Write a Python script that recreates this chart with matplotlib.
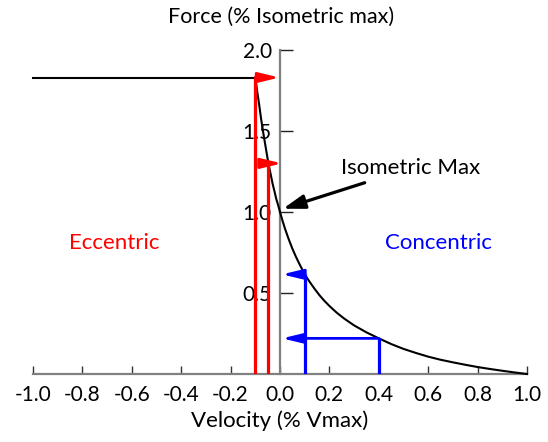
import matplotlib
matplotlib.use("Agg")
import matplotlib.pyplot as plt

plt.rcParams['font.family'] = ['Lato', 'DejaVu Sans']
plt.rcParams['axes.unicode_minus'] = False

# Data
plateau_v = [-1.0, -0.1]
plateau_F = [1.83, 1.83]
ecc_v = [-0.1, -0.092, -0.085, -0.077, -0.069, -0.058, -0.047, -0.038, -0.03, -0.022, -0.015, -0.007, 0.0]
ecc_F = [1.83, 1.74, 1.67, 1.58, 1.5, 1.4, 1.3, 1.235, 1.175, 1.125, 1.08, 1.04, 1.0]
con_v = [0.0, 0.01, 0.02, 0.035, 0.05, 0.065, 0.08, 0.1, 0.12, 0.14, 0.16, 0.18, 0.2, 0.23, 0.26,
         0.3, 0.35, 0.4, 0.45, 0.5, 0.55, 0.6, 0.65, 0.7, 0.75, 0.8, 0.85, 0.9, 0.95, 1.0]
con_F = [1.0, 0.947, 0.898, 0.833, 0.774, 0.722, 0.675, 0.615, 0.569, 0.526, 0.486, 0.451, 0.42,
         0.378, 0.342, 0.3, 0.257, 0.22, 0.185, 0.155, 0.13, 0.107, 0.088, 0.072, 0.057, 0.043,
         0.031, 0.02, 0.0095, 0.0]
ecc_marks_v = [-0.1, -0.05]
ecc_marks_F = [1.83, 1.3]
con_marks_v = [0.1, 0.4]
con_marks_F = [0.615, 0.22]
xticks = [-1.0, -0.8, -0.6, -0.4, -0.2, 0.0, 0.2, 0.4, 0.6, 0.8, 1.0]
yticks = [0.5, 1.0, 1.5, 2.0]

fig = plt.figure(figsize=(5.48, 4.42), dpi=100)
ax = fig.add_axes([33/548, 1-374/442, (527-33)/548, (374-50)/442])
ax.set_xlim(-1.0, 1.0)
ax.set_ylim(0, 2.0)

for s in ['top', 'right']:
    ax.spines[s].set_visible(False)
ax.spines['left'].set_position(('data', 0))
ax.spines['bottom'].set_position(('data', 0))
for s in ['left', 'bottom']:
    ax.spines[s].set_color('#808080')
    ax.spines[s].set_linewidth(1.6)

ax.set_xticks(xticks)
ax.set_xticklabels([f"{t:.1f}" for t in xticks])
ax.set_yticks(yticks)
ax.set_yticklabels([f"{t:.1f}" for t in yticks])
ax.tick_params(axis='x', direction='in', length=6, width=1, color='#333333', labelsize=15, pad=8)
ax.tick_params(axis='y', direction='in', length=9, width=1, color='#222222', labelsize=15, pad=6)

ax.set_xlabel('Velocity (% Vmax)', fontsize=16, labelpad=4)
fig.text(281/548, 1-17/442, 'Force (% Isometric max)', fontsize=15.5, ha='center', va='center')

# Curves
ax.plot(plateau_v, plateau_F, color='black', lw=1.5, clip_on=False, zorder=3)
ax.plot(ecc_v, ecc_F, color='black', lw=1.5, clip_on=False, zorder=3)
ax.plot(con_v, con_F, color='black', lw=1.5, clip_on=False, zorder=3)

head = '-|>,head_length=1.25,head_width=0.3'

# Eccentric markers (red)
for v, F in zip(ecc_marks_v, ecc_marks_F):
    ax.plot([v, v], [0, F], color='#ff0000', lw=2.3, zorder=4, solid_capstyle='butt')
    ax.annotate('', xy=(-0.002 if v < -0.07 else 0.008, F), xytext=(v, F),
                arrowprops=dict(arrowstyle=head, mutation_scale=10, color='#ff0000', lw=2.0,
                                shrinkA=0, shrinkB=0), zorder=4)

# Concentric markers (blue)
for v, F in zip(con_marks_v, con_marks_F):
    ax.plot([v, v], [0, F], color='#0000ff', lw=2.3, zorder=4, solid_capstyle='butt')
    ax.annotate('', xy=(0.008, F), xytext=(v, F),
                arrowprops=dict(arrowstyle=head, mutation_scale=10, color='#0000ff', lw=2.0,
                                shrinkA=0, shrinkB=0), zorder=4)

ax.annotate('Isometric Max', xy=(0.012, 1.02), xytext=(0.245, 1.27),
            fontsize=16, ha='left', va='center',
            arrowprops=dict(arrowstyle='-|>,head_length=1.3,head_width=0.42',
                            mutation_scale=10, color='black', lw=2.3,
                            shrinkA=4, shrinkB=0))

ax.text(-0.67, 0.81, 'Eccentric', color='#ff0000', fontsize=16, ha='center', va='center')
ax.text(0.64, 0.81, 'Concentric', color='#0000ff', fontsize=16, ha='center', va='center')

fig.savefig('out.png', dpi=100)
